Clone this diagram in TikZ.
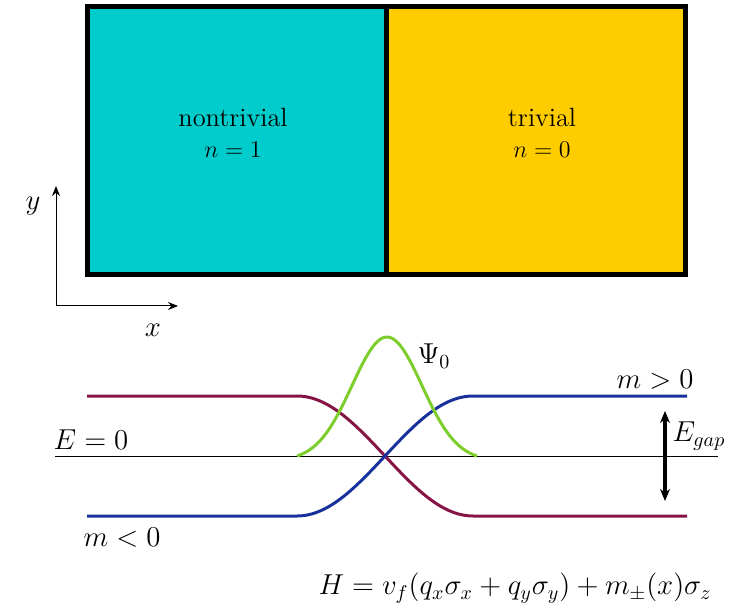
\documentclass[tikz,border=0pt]{standalone}
\usetikzlibrary{arrows.meta}
\definecolor{cyanbox}{RGB}{0,204,204}
\definecolor{yellowbox}{RGB}{255,204,0}
\definecolor{maroonline}{RGB}{135,20,70}
\definecolor{blueline}{RGB}{25,50,155}
\definecolor{greenline}{RGB}{125,205,45}
\begin{document}
\begin{tikzpicture}[x=0.5pt,y=-0.5pt,
  every node/.style={font=\fontsize{14}{16}\selectfont, inner sep=0pt},
  boxtext/.style={align=center, font=\fontsize{13.2}{15.5}\selectfont},
  frame/.style={draw=black, line width=2.5pt},
  band/.style={line width=1.5pt},
  axis/.style={line width=0.5pt, -{Stealth[length=5pt,width=4pt]}},
  gaparrow/.style={line width=1.6pt, {Stealth[length=6pt,width=5pt]}-{Stealth[length=6pt,width=5pt]}}]
\useasboundingbox (0,0) rectangle (739,604);
% boxes
\fill[cyanbox] (87.5,7) rectangle (386.5,274.5);
\fill[yellowbox] (386.5,7) rectangle (685.5,274.5);
\draw[frame] (87.5,7) rectangle (685.5,274.5);
\draw[frame] (386.5,7) -- (386.5,274.5);
\node[boxtext] (ntl) at (233,133) {nontrivial\\$n=1$};
\node[boxtext] (tl) at (542,133) {trivial\\$n=0$};
% axes
\coordinate (o) at (56,306);
\coordinate (yend) at (56,186);
\coordinate (xend) at (178,306);
\draw[axis] (o) -- (yend);
\draw[axis] (o) -- (xend);
\node (ylab) at (33,206) {$y$};
\node (xlab) at (153,330) {$x$};
% zero line
\coordinate (z0) at (55,456.5);
\coordinate (z1) at (718,456.5);
\draw[line width=0.5pt] (z0) -- (z1);
% bands
\draw[band, maroonline] (87,396) -- (297,396)
  -- plot[domain=297:473, samples=60] (\x, {456-60*cos((\x-297)/176*180)})
  -- (687,516);
\draw[band, blueline] (87,516) -- (297,516)
  -- plot[domain=297:473, samples=60] (\x, {456+60*cos((\x-297)/176*180)})
  -- (687,396);
% wavefunction
\draw[band, greenline] plot[domain=297:477, samples=80, smooth]
  (\x, {456-119*(exp(-0.5*((\x-387)/35)^2)-0.0367)/0.9633});
% gap arrow
\coordinate (g0) at (665,411);
\coordinate (g1) at (665,501);
\draw[gaparrow] (g0) -- (g1);
% labels
\node (psi) at (434,356) {$\Psi_0$};
\node (mpos) at (655,380) {$m>0$};
\node (mneg) at (122,538) {$m<0$};
\node (ezero) at (91,440) {$E=0$};
\node (egap) at (699,436) {$E_{gap}$};
\node (ham) at (515,588) {$H=v_f(q_x\sigma_x+q_y\sigma_y)+m_\pm(x)\sigma_z$};
\end{tikzpicture}
\end{document}
